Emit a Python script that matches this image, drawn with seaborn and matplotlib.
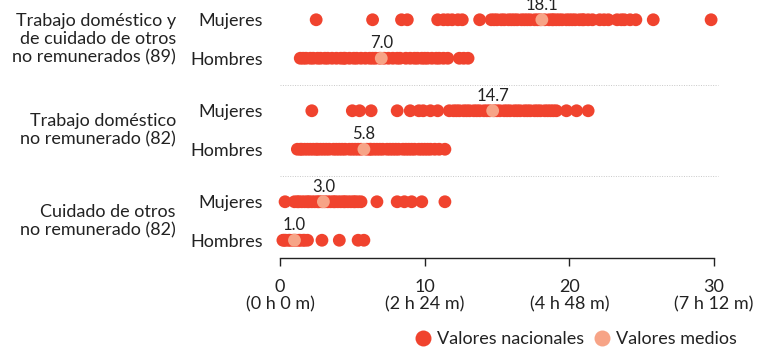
import pandas as pd
import matplotlib
matplotlib.use('Agg')
import matplotlib.pyplot as plt
import seaborn as sns
from matplotlib.lines import Line2D
from matplotlib.transforms import blended_transform_factory

# --- datos ---
grupos = ['Trabajo doméstico y\nde cuidado de otros\nno remunerados (89)',
          'Trabajo doméstico\nno remunerado (82)',
          'Cuidado de otros\nno remunerado (82)']
sexos = ['Mujeres', 'Hombres']

total_mujeres = [2.5, 6.4, 8.4, 8.8, 10.9, 11.3, 11.6, 11.9, 12.3, 12.6, 13.8, 14.6,
                 14.8, 15.0, 15.3, 15.5, 15.8, 16.0, 16.2, 16.4, 16.7, 16.9, 17.1,
                 17.3, 17.6, 17.8, 18.0, 18.3, 18.6, 18.8, 18.9, 19.1, 19.3, 19.5,
                 19.8, 20.0, 20.2, 20.4, 20.7, 20.9, 21.0, 21.3, 21.6, 22.1, 22.4,
                 22.7, 23.3, 23.6, 23.8, 24.2, 24.6, 25.8, 29.8]
total_hombres = [1.4, 1.6, 1.8, 2.1, 2.3, 2.6, 2.8, 3.1, 3.3, 3.6, 3.9, 4.2, 4.4, 4.5,
                 4.8, 5.1, 5.3, 5.6, 5.9, 6.2, 6.4, 6.6, 6.9, 7.2, 7.5, 7.8, 8.1,
                 8.3, 8.7, 9.0, 9.3, 9.5, 9.8, 10.0, 10.2, 10.5, 10.8, 11.0, 11.3,
                 11.6, 12.4, 12.7, 13.0]
domestico_mujeres = [2.2, 5.0, 5.5, 6.3, 8.1, 9.0, 9.6, 9.9, 10.4, 10.9, 11.7, 12.0,
                     12.2, 12.4, 12.7, 12.9, 13.1, 13.4, 13.6, 13.8, 14.1, 14.3, 14.5,
                     14.8, 15.0, 15.2, 15.5, 15.7, 15.9, 16.2, 16.4, 16.6, 16.9, 17.1,
                     17.3, 17.6, 17.8, 18.0, 18.3, 18.5, 18.7, 18.9, 19.1, 19.8, 20.5,
                     21.3]
domestico_hombres = [1.2, 1.4, 1.5, 1.7, 1.9, 2.1, 2.3, 2.5, 2.6, 2.8, 3.0, 3.2, 3.4,
                     3.7, 3.9, 4.1, 4.3, 4.5, 4.8, 5.0, 5.2, 5.4, 5.6, 6.0, 6.2, 6.3,
                     6.5, 6.7, 6.9, 7.1, 7.4, 7.6, 7.8, 8.0, 8.2, 8.5, 8.7, 8.9, 9.1,
                     9.3, 9.6, 9.8, 10.0, 10.2, 10.4, 10.7, 11.0, 11.4]
cuidado_mujeres = [0.35, 1.0, 1.2, 1.3, 1.5, 1.7, 1.9, 2.0, 2.2, 2.4, 2.6, 2.7, 2.9,
                   3.1, 3.3, 3.5, 3.7, 3.8, 4.0, 4.2, 4.4, 4.5, 4.7, 4.9, 5.1, 5.2,
                   5.4, 5.6, 6.7, 8.1, 8.6, 9.1, 9.8, 11.4]
cuidado_hombres = [0.2, 0.3, 0.4, 0.6, 0.7, 0.9, 1.0, 1.1, 1.3, 1.4, 1.6, 1.7, 1.9,
                   2.9, 4.1, 5.4, 5.8]

medias = [[18.1, 7.0], [14.7, 5.8], [3.0, 1.0]]

tick_vals = [0, 10, 20, 30]
tick_horas = ['(0 h 0 m)', '(2 h 24 m)', '(4 h 48 m)', '(7 h 12 m)']

series = [[total_mujeres, total_hombres],
          [domestico_mujeres, domestico_hombres],
          [cuidado_mujeres, cuidado_hombres]]

ROJO = '#F0432E'
SALMON = '#F7A487'
OFFSET = 0.2115

rows = []
for g, pares in enumerate(series):
    for s, vals in enumerate(pares):
        for v in vals:
            rows.append({'valor': v, 'y': g + (s - 0.5) * 2 * OFFSET, 'tipo': 'Valores nacionales'})
for g, par in enumerate(medias):
    for s, m in enumerate(par):
        rows.append({'valor': m, 'y': g + (s - 0.5) * 2 * OFFSET, 'tipo': 'Valores medios'})
df = pd.DataFrame(rows)

sns.set_style('white')
plt.rcParams['font.family'] = ['Lato', 'DejaVu Sans']
TXT = '#222222'

fig = plt.figure(figsize=(7.6, 3.52), dpi=100)
ax = fig.add_axes([280 / 760, 1 - 258 / 352, 434 / 760, 258 / 352])

sns.scatterplot(data=df, x='valor', y='y', hue='tipo',
                palette={'Valores nacionales': ROJO, 'Valores medios': SALMON},
                s=85, linewidth=0, alpha=1, ax=ax, legend=False, clip_on=False)

# etiquetas de las medias
for g, par in enumerate(medias):
    for s, m in enumerate(par):
        ax.text(m, g + (s - 0.5) * 2 * OFFSET - 0.165, f'{m:.1f}', ha='center',
                va='center', fontsize=12, color=TXT, clip_on=False)

# separadores punteados
for yy in [0.5, 1.5]:
    ax.plot([0, 30.3], [yy, yy], ls=(0, (1, 1.5)), lw=0.7, color='#c8c8c8', clip_on=False)

ax.set_xlim(0, 30)
ax.set_ylim(2.4066, -0.4286)
ax.set_xlabel('')
ax.set_ylabel('')

ytick_pos = [g + (s - 0.5) * 2 * OFFSET for g in range(3) for s in range(2)]
ax.set_yticks(ytick_pos)
ax.set_yticklabels(sexos * 3, fontsize=13, color=TXT)
ax.tick_params(axis='y', length=0, pad=12)

ax.set_xticks(tick_vals)
ax.set_xticklabels([f'{v}\n{h}' for v, h in zip(tick_vals, tick_horas)],
                   fontsize=13, color=TXT, linespacing=1.15)
ax.tick_params(axis='x', length=6, width=1, color='#222222', pad=9, direction='out', bottom=True)

for side in ['top', 'right', 'left']:
    ax.spines[side].set_visible(False)
ax.spines['bottom'].set_color('#222222')
ax.spines['bottom'].set_linewidth(1)

# etiquetas de grupo
trans = blended_transform_factory(fig.transFigure, ax.transData)
for g, nombre in enumerate(grupos):
    ax.text(176 / 760, g, nombre, transform=trans, ha='right', va='center',
            multialignment='right', fontsize=13, color=TXT, linespacing=1.18)

handles = [Line2D([], [], marker='o', ls='', ms=11.5, color=ROJO, mec='none'),
           Line2D([], [], marker='o', ls='', ms=11.5, color=SALMON, mec='none')]
fig.legend(handles, ['Valores nacionales', 'Valores medios'], loc='center right',
           bbox_to_anchor=(746 / 760, 1 - 339 / 352), ncol=2, frameon=False,
           fontsize=13, handlelength=0.9, handletextpad=0.35, columnspacing=0.5,
           borderpad=0, labelcolor=TXT)

fig.savefig('out.png', dpi=100)
